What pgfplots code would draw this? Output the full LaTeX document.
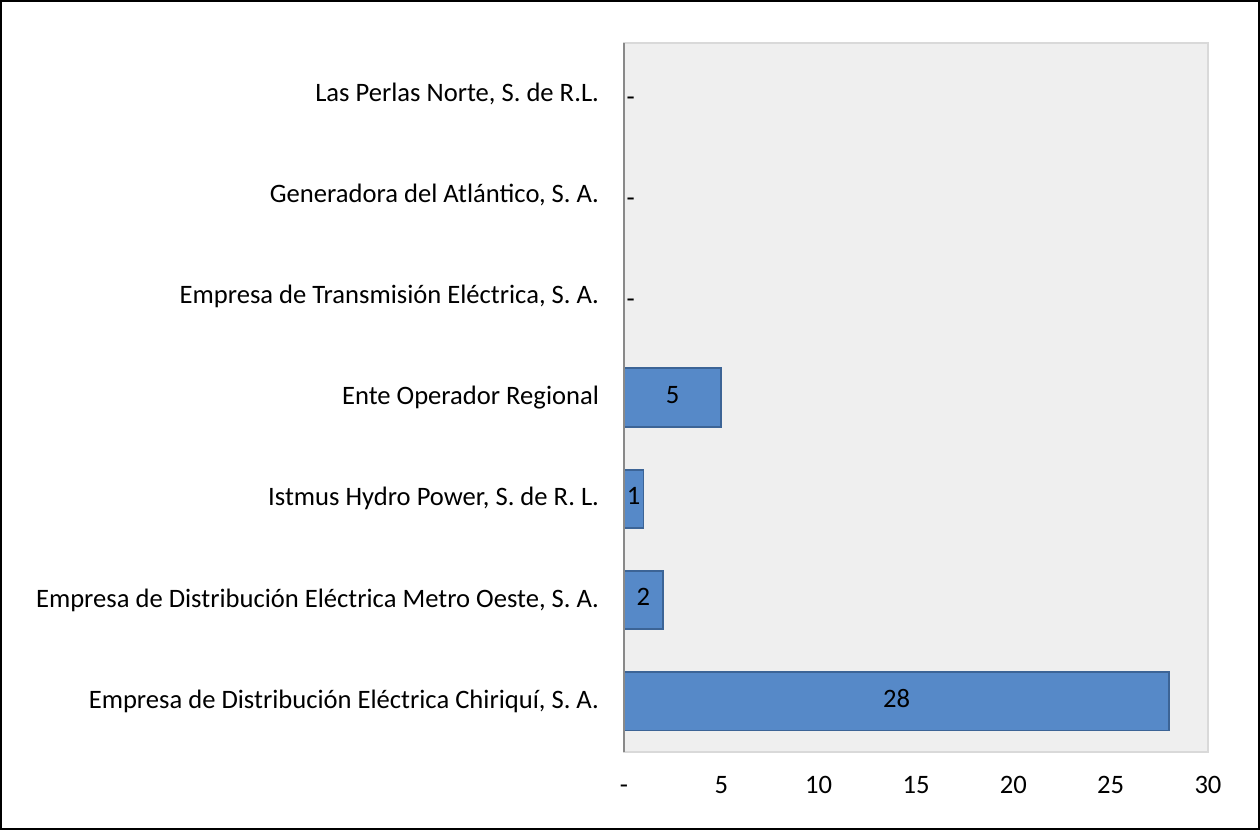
\documentclass[border=0pt]{standalone}
\usepackage{pgfplots}
\pgfplotsset{compat=1.18}
\usepackage{fontspec}
\setmainfont{Carlito}

\definecolor{barfill}{RGB}{86,137,200}
\definecolor{baredge}{RGB}{60,100,150}
\definecolor{plotbg}{RGB}{239,239,239}
\definecolor{plotedge}{RGB}{217,217,217}
\definecolor{zeroline}{RGB}{137,137,137}

\begin{document}
\begin{tikzpicture}[x=1pt,y=1pt,font=\fontsize{13.3}{16}\selectfont]
\useasboundingbox (0,0) rectangle (630,415);
\draw[black, line width=0.8pt] (0.5,0.5) rectangle (629.5,414.5);
\begin{axis}[
  at={(312pt,39pt)}, anchor=south west,
  scale only axis, width=292pt, height=354.5pt,
  xbar, bar width=0.575,
  xmin=0, xmax=30, ymin=-0.5, ymax=6.5,
  axis background/.style={fill=plotbg},
  axis line style={plotedge, line width=0.6pt},
  axis on top,
  major tick length=0pt,
  xtick={0,5,...,30},
  xticklabels={-,5,10,15,20,25,30},
  xticklabel style={text height=1.4ex, text depth=0.2ex, yshift=-10.5pt},
  extra x ticks={0}, extra x tick labels={},
  extra x tick style={grid=major, major grid style={zeroline, line width=1.2pt}},
  ytick={0,...,6},
  yticklabels={
    {Empresa de Distribución Eléctrica Chiriquí, S. A.},
    {Empresa de Distribución Eléctrica Metro Oeste, S. A.},
    {Istmus Hydro Power, S. de R. L.},
    {Ente Operador Regional},
    {Empresa de Transmisión Eléctrica, S. A.},
    {Generadora del Atlántico, S. A.},
    {Las Perlas Norte, S. de R.L.}},
  yticklabel style={anchor=east, xshift=-9pt},
  point meta=explicit symbolic,
  visualization depends on={rawx \as \rawx},
  nodes near coords,
  every node near coord/.append style={anchor=center, black,
    text height=1.4ex, text depth=0.2ex,
    shift={(axis direction cs:-\rawx/2,0)}},
]
\addplot[fill=barfill, draw=baredge, line width=0.9pt] coordinates {
  (28,0) [28]
  (2,1) [2]
  (1,2) [1]
  (5,3) [5]
  (0,4) [{\raisebox{-3pt}{\hphantom{0}-}}]
  (0,5) [{\raisebox{-3pt}{\hphantom{0}-}}]
  (0,6) [{\raisebox{-3pt}{\hphantom{0}-}}]
};
\end{axis}
\end{tikzpicture}
\end{document}
